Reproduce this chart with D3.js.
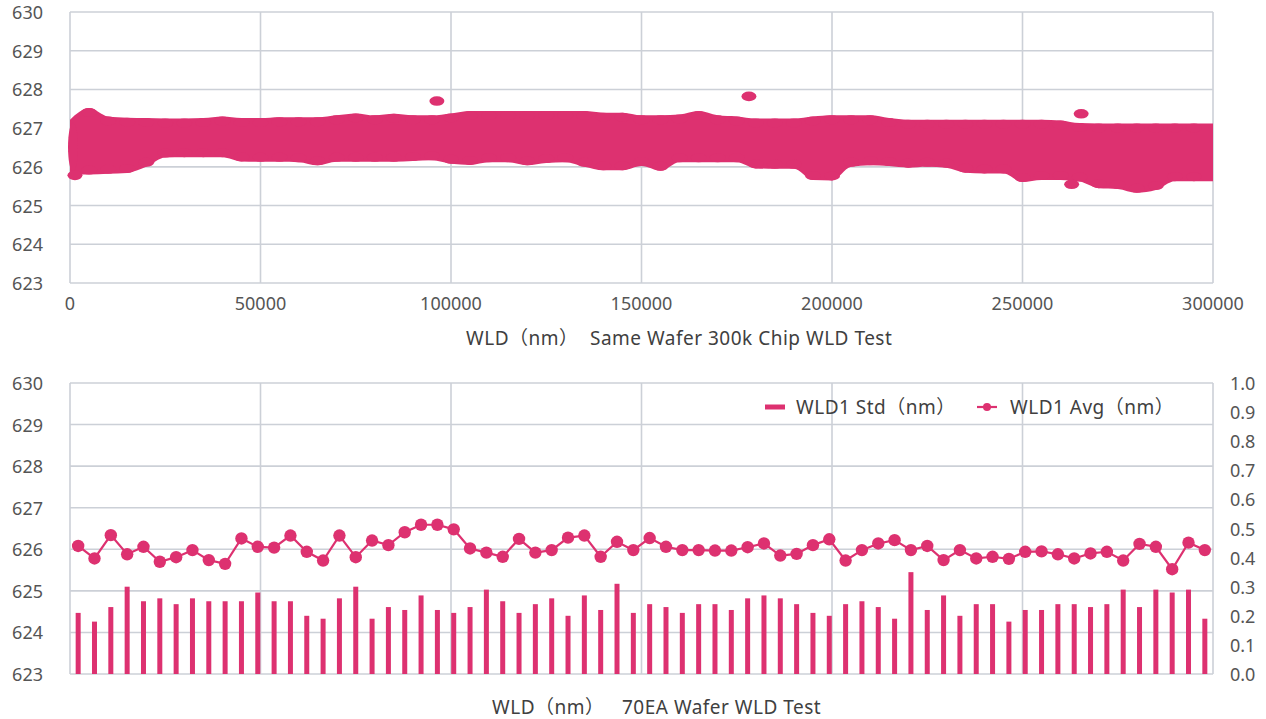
<!DOCTYPE html>
<html>
<head>
<meta charset="utf-8">
<script src="https://cdn.jsdelivr.net/npm/d3@7"></script>
<style>
  body { margin: 0; background: #ffffff; }
  svg { display: block; font-family: "Noto Sans", "Noto Sans CJK SC", sans-serif; }
  .lbl { letter-spacing: 0.5px; }
</style>
</head>
<body>
<svg id="chart" width="1266" height="719"></svg>
<script>
// ---------- Same wafer, 300k chips: envelope of the WLD scatter along the wafer ----------
const chipPos = [
  0, 5000, 10000, 15000, 20000, 25000, 30000, 35000, 40000, 45000,
  50000, 55000, 60000, 65000, 70000, 75000, 80000, 85000, 90000, 95000,
  100000, 105000, 110000, 115000, 120000, 125000, 130000, 135000, 140000, 145000,
  150000, 155000, 160000, 165000, 170000, 175000, 180000, 185000, 190000, 195000,
  200000, 205000, 210000, 215000, 220000, 225000, 230000, 235000, 240000, 245000,
  250000, 255000, 260000, 265000, 270000, 275000, 280000, 285000, 290000, 295000,
  300000
];
const chipHigh = [
  627.22, 627.52, 627.30, 627.27, 627.26, 627.25, 627.25, 627.26, 627.30, 627.26,
  627.26, 627.28, 627.28, 627.28, 627.33, 627.38, 627.33, 627.37, 627.33, 627.33,
  627.38, 627.44, 627.44, 627.44, 627.44, 627.44, 627.44, 627.44, 627.40, 627.40,
  627.33, 627.33, 627.35, 627.44, 627.33, 627.30, 627.25, 627.25, 627.25, 627.30,
  627.33, 627.33, 627.33, 627.26, 627.22, 627.22, 627.22, 627.22, 627.22, 627.22,
  627.22, 627.22, 627.20, 627.13, 627.12, 627.12, 627.12, 627.12, 627.12, 627.12,
  627.12
];
const chipLow = [
  625.80, 625.80, 625.82, 625.84, 626.00, 626.24, 626.25, 626.25, 626.25, 626.14,
  626.13, 626.13, 626.12, 626.04, 626.13, 626.13, 626.13, 626.13, 626.15, 626.17,
  626.08, 626.05, 626.12, 626.12, 626.04, 626.10, 626.12, 626.00, 625.91, 625.91,
  626.02, 625.90, 626.12, 626.12, 626.12, 626.12, 625.96, 625.95, 625.95, 625.66,
  625.65, 626.00, 626.04, 626.02, 625.98, 626.00, 625.98, 625.85, 625.83, 625.83,
  625.61, 625.66, 625.66, 625.62, 625.45, 625.43, 625.33, 625.40, 625.63, 625.63,
  625.63
];
// isolated chips outside the main band
const strayPos = [1300, 96300, 178200, 262900, 265400];
const strayWld = [625.78, 627.70, 627.82, 625.55, 627.37];

const posTicks = [0, 50000, 100000, 150000, 200000, 250000, 300000];
const wldTicks = [623, 624, 625, 626, 627, 628, 629, 630];

// ---------- 70 wafers: per-wafer average and standard deviation ----------
const waferIds = d3.range(1, 71);
const wldAvg = [
  626.08, 625.78, 626.34, 625.88, 626.06, 625.70, 625.81, 625.98, 625.74, 625.65,
  626.26, 626.06, 626.04, 626.33, 625.94, 625.73, 626.33, 625.81, 626.21, 626.10,
  626.41, 626.59, 626.59, 626.48, 626.02, 625.92, 625.82, 626.25, 625.92, 625.98,
  626.28, 626.33, 625.82, 626.18, 625.98, 626.27, 626.06, 625.98, 625.98, 625.97,
  625.97, 626.05, 626.14, 625.85, 625.89, 626.10, 626.24, 625.73, 625.98, 626.14,
  626.22, 625.98, 626.08, 625.74, 625.98, 625.78, 625.82, 625.77, 625.94, 625.95,
  625.88, 625.78, 625.90, 625.94, 625.73, 626.13, 626.06, 625.52, 626.16, 625.98
];
const wldStd = [
  0.21, 0.18, 0.23, 0.30, 0.25, 0.26, 0.24, 0.26, 0.25, 0.25,
  0.25, 0.28, 0.25, 0.25, 0.20, 0.19, 0.26, 0.30, 0.19, 0.23,
  0.22, 0.27, 0.22, 0.21, 0.23, 0.29, 0.25, 0.21, 0.24, 0.26,
  0.20, 0.27, 0.22, 0.31, 0.21, 0.24, 0.23, 0.21, 0.24, 0.24,
  0.22, 0.26, 0.27, 0.26, 0.24, 0.21, 0.20, 0.24, 0.25, 0.23,
  0.19, 0.35, 0.22, 0.27, 0.20, 0.24, 0.24, 0.18, 0.22, 0.22,
  0.24, 0.24, 0.23, 0.24, 0.29, 0.23, 0.29, 0.28, 0.29, 0.19
];
const stdTicks = [0, 0.1, 0.2, 0.3, 0.4, 0.5, 0.6, 0.7, 0.8, 0.9, 1.0];

// ---------- styles ----------
const PINK = "#dd3170";
const GRID = "#ccd0d7";
const TICK_TEXT = "#555555";
const TITLE_TEXT = "#404040";
const TICK_SIZE = 18;
const LABEL_SIZE = 19;

const svg = d3.select("#chart");

// ================= upper panel: scatter band =================
const panelA = { left: 70, right: 1213, top: 12, bottom: 283 };
const xPos = d3.scaleLinear().domain([0, 300000]).range([panelA.left, panelA.right]);
const yTop = d3.scaleLinear().domain([623, 630]).range([panelA.bottom, panelA.top]);

const g1 = svg.append("g");

g1.append("g").selectAll("line").data(wldTicks).join("line")
  .attr("x1", panelA.left).attr("x2", panelA.right)
  .attr("y1", d => yTop(d)).attr("y2", d => yTop(d))
  .attr("stroke", GRID).attr("stroke-width", 1.6);
g1.append("g").selectAll("line").data(posTicks).join("line")
  .attr("x1", d => xPos(d)).attr("x2", d => xPos(d))
  .attr("y1", panelA.top).attr("y2", panelA.bottom)
  .attr("stroke", GRID).attr("stroke-width", 1.6);

const band = chipPos.map((p, i) => ({ p, hi: chipHigh[i], lo: chipLow[i] }));
const bandArea = d3.area()
  .x(d => xPos(d.p))
  .y0(d => yTop(d.lo))
  .y1(d => yTop(d.hi))
  .curve(d3.curveMonotoneX);
g1.append("path").datum(band).attr("d", bandArea).attr("fill", PINK);

// extreme chips along both edges of the band (markers give the scalloped edge)
const edgeMarks = band.filter(d => d.p > 0 && d.p < 300000).flatMap(d => [
  { p: d.p, v: d.hi, side: 1 },
  { p: d.p, v: d.lo, side: -1 }
]);
g1.append("g").selectAll("ellipse").data(edgeMarks).join("ellipse")
  .attr("cx", d => xPos(d.p))
  .attr("cy", d => yTop(d.v) + d.side * 4.5)
  .attr("rx", 8).attr("ry", 4.5)
  .attr("fill", PINK);

// rounded start of the band at the wafer edge
g1.append("ellipse")
  .attr("cx", xPos(0) + 3)
  .attr("cy", (yTop(chipHigh[0]) + yTop(chipLow[0])) / 2)
  .attr("rx", 5)
  .attr("ry", (yTop(chipLow[0]) - yTop(chipHigh[0])) / 2 - 3)
  .attr("fill", PINK);

g1.append("g").selectAll("ellipse").data(strayPos.map((p, i) => ({ p, v: strayWld[i] }))).join("ellipse")
  .attr("cx", d => xPos(d.p)).attr("cy", d => yTop(d.v))
  .attr("rx", 7.5).attr("ry", 4.8)
  .attr("fill", PINK);

// axis labels
g1.append("g").selectAll("text").data(wldTicks).join("text")
  .attr("x", 43).attr("y", d => yTop(d))
  .attr("text-anchor", "end").attr("dominant-baseline", "central")
  .attr("font-size", TICK_SIZE).attr("fill", TICK_TEXT)
  .text(d => d);
g1.append("g").selectAll("text").data(posTicks).join("text")
  .attr("x", d => xPos(d)).attr("y", 303)
  .attr("text-anchor", "middle").attr("dominant-baseline", "central")
  .attr("font-size", TICK_SIZE).attr("fill", TICK_TEXT)
  .text(d => d);

const t1 = g1.append("text").attr("class", "lbl").attr("y", 338).attr("dominant-baseline", "central")
  .attr("font-size", LABEL_SIZE).attr("fill", TITLE_TEXT);
t1.append("tspan").attr("x", 466).text("WLD（nm）");
t1.append("tspan").attr("x", 590).text("Same Wafer 300k Chip WLD Test");

// ================= lower panel: per-wafer std bars + avg line =================
const panelB = { left: 70, right: 1213, top: 383, bottom: 674 };
const xWafer = d3.scaleBand().domain(waferIds).range([panelB.left, panelB.right]);
const yAvg = d3.scaleLinear().domain([623, 630]).range([panelB.bottom, panelB.top]);
const yStd = d3.scaleLinear().domain([0, 1]).range([panelB.bottom, panelB.top]);
const xGrid = d3.scaleLinear().domain([0, 6]).range([panelB.left, panelB.right]);

const g2 = svg.append("g");

g2.append("g").selectAll("line").data(wldTicks).join("line")
  .attr("x1", panelB.left).attr("x2", panelB.right)
  .attr("y1", d => yAvg(d)).attr("y2", d => yAvg(d))
  .attr("stroke", GRID).attr("stroke-width", 1.6);
g2.append("g").selectAll("line").data(xGrid.ticks(6)).join("line")
  .attr("x1", d => xGrid(d)).attr("x2", d => xGrid(d))
  .attr("y1", panelB.top).attr("y2", panelB.bottom)
  .attr("stroke", GRID).attr("stroke-width", 1.6);

const barW = 5;
const cx = id => xWafer(id) + xWafer.bandwidth() / 2;

g2.append("g").selectAll("rect").data(waferIds).join("rect")
  .attr("x", d => cx(d) - barW / 2)
  .attr("width", barW)
  .attr("y", (d, i) => yStd(wldStd[i]))
  .attr("height", (d, i) => yStd(0) - yStd(wldStd[i]))
  .attr("fill", PINK);

const avgLine = d3.line().x(d => cx(d)).y((d, i) => yAvg(wldAvg[i]));
g2.append("path").datum(waferIds).attr("d", avgLine)
  .attr("fill", "none").attr("stroke", PINK).attr("stroke-width", 2.2);
g2.append("g").selectAll("circle").data(waferIds).join("circle")
  .attr("cx", d => cx(d)).attr("cy", (d, i) => yAvg(wldAvg[i]))
  .attr("r", 6.2).attr("fill", PINK);

g2.append("g").selectAll("text").data(wldTicks).join("text")
  .attr("x", 43).attr("y", d => yAvg(d))
  .attr("text-anchor", "end").attr("dominant-baseline", "central")
  .attr("font-size", TICK_SIZE).attr("fill", TICK_TEXT)
  .text(d => d);
g2.append("g").selectAll("text").data(stdTicks).join("text")
  .attr("x", 1230).attr("y", d => yStd(d))
  .attr("text-anchor", "start").attr("dominant-baseline", "central")
  .attr("font-size", TICK_SIZE).attr("fill", TICK_TEXT)
  .text(d => d3.format(".1f")(d));

// legend
const lg = g2.append("g");
lg.append("line").attr("x1", 765).attr("x2", 785).attr("y1", 407).attr("y2", 407)
  .attr("stroke", PINK).attr("stroke-width", 5);
lg.append("text").attr("class", "lbl").attr("x", 796).attr("y", 407).attr("dominant-baseline", "central")
  .attr("font-size", LABEL_SIZE).attr("fill", TITLE_TEXT).text("WLD1 Std（nm）");
lg.append("line").attr("x1", 977).attr("x2", 997).attr("y1", 407).attr("y2", 407)
  .attr("stroke", PINK).attr("stroke-width", 2.2);
lg.append("circle").attr("cx", 987).attr("cy", 407).attr("r", 4).attr("fill", PINK);
lg.append("text").attr("class", "lbl").attr("x", 1010).attr("y", 407).attr("dominant-baseline", "central")
  .attr("font-size", LABEL_SIZE).attr("fill", TITLE_TEXT).text("WLD1 Avg（nm）");

const t2 = g2.append("text").attr("class", "lbl").attr("y", 707).attr("dominant-baseline", "central")
  .attr("font-size", LABEL_SIZE).attr("fill", TITLE_TEXT);
t2.append("tspan").attr("x", 492).text("WLD（nm）");
t2.append("tspan").attr("x", 622).text("70EA Wafer WLD Test");
</script>
</body>
</html>
